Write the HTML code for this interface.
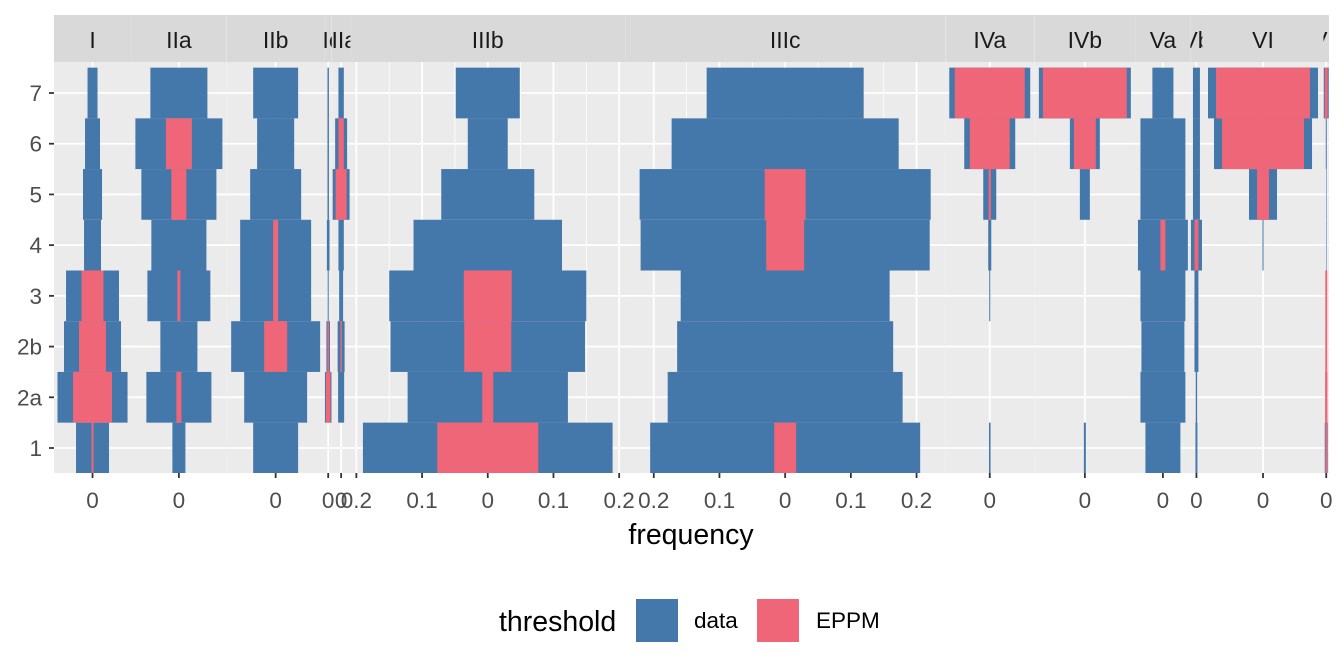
<!DOCTYPE html>
<html><head><meta charset="utf-8">
<style>
html,body{margin:0;padding:0;background:#fff;}
svg{display:block;font-family:"Liberation Sans",sans-serif;}
</style></head>
<body>
<svg id="chart" width="1344" height="672" viewBox="0 0 1344 672" xmlns="http://www.w3.org/2000/svg"></svg>
<script>
// rows (y categories), bottom to top
const rows = ["1","2a","2b","3","4","5","6","7"];
const panels = ["I","IIa","IIb","IIc","IIIa","IIIb","IIIc","IVa","IVb","Va","Vb","VI","VII"];
// half-width frequency per row (1..7) for "data"
const dataI    = [.0251,.0533,.0434,.0403,.0129,.0145,.0114,.0076];
const dataIIa  = [.0099,.0495,.0282,.0479,.0419,.0571,.0662,.0434];
const dataIIb  = [.0342,.0479,.0677,.054,.054,.0388,.0282,.0342];
const dataIIc  = [0,.005,.0027,.0008,.002,.0011,.0011,.0011];
const dataIIIa = [0,.0046,.0053,.003,.0041,.0129,.0091,.0041];
const dataIIIb = [.190,.122,.148,.150,.113,.0708,.0304,.0487];
const dataIIIc = [.2055,.1788,.1644,.159,.22,.2215,.1728,.1195];
const dataIVa  = [.0012,0,0,.0008,.0023,.0099,.0388,.0616];
const dataIVb  = [.0015,0,0,0,0,.0076,.0228,.07];
const dataVa   = [.0266,.0342,.0327,.0342,.038,.0342,.0342,.016];
const dataVb   = [.0015,.0011,.003,.003,.0084,.0053,.0053,.0053];
const dataVI   = [0,0,0,0,.0008,.0213,.0746,.0837];
const dataVII  = [.0023,0,0,0,.0005,.0005,.0008,.0038];
// half-width frequency per row for "EPPM"
const eppmI    = [.0015,.0297,.0205,.0167,0,0,0,0];
const eppmIIa  = [0,.0038,0,.0023,0,.0114,.0198,0];
const eppmIIb  = [0,0,.0175,.0038,.0038,0,0,0];
const eppmIIc  = [0,.0035,.0012,0,0,0,0,0];
const eppmIIIa = [0,0,.0011,0,0,.0084,.0041,0];
const eppmIIIb = [.0769,.0084,.0358,.0365,0,0,0,0];
const eppmIIIc = [.0167,0,0,0,.0289,.0312,0,0];
const eppmIVa  = [0,0,0,0,0,.0018,.0304,.0533];
const eppmIVb  = [0,0,0,0,0,0,.0167,.0639];
const eppmVa   = [0,0,0,0,.0038,0,0,0];
const eppmVb   = [0,0,0,0,.003,0,0,0];
const eppmVI   = [0,0,0,0,0,.0091,.0624,.0715];
const eppmVII  = [.0015,.0018,.0015,.0015,0,0,0,.0023];
const dataSeries = [dataI,dataIIa,dataIIb,dataIIc,dataIIIa,dataIIIb,dataIIIc,dataIVa,dataIVb,dataVa,dataVb,dataVI,dataVII];
const eppmSeries = [eppmI,eppmIIa,eppmIIb,eppmIIc,eppmIIIa,eppmIIIb,eppmIIIc,eppmIVa,eppmIVb,eppmVa,eppmVb,eppmVI,eppmVII];
const bigTicks = [-0.2,-0.1,0,0.1,0.2];
const bigMinor = [-0.15,-0.05,0.05,0.15];

const NS="http://www.w3.org/2000/svg";
const svg=document.getElementById('chart');
function mk(tag,attrs,parent){const e=document.createElementNS(NS,tag);for(const k in attrs)e.setAttribute(k,attrs[k]);(parent||svg).appendChild(e);return e;}

const K=657; // px per frequency unit
const PLEFT=54, PTOP=62, PBOT=473, STOP=15;
const yStep=(448-93)/7;
function yPos(i){return 448 - i*yStep;}
const BLUE="#4477AA", RED="#EE6677";

let x0=PLEFT;
panels.forEach((name,p)=>{
  const d=dataSeries[p], e=eppmSeries[p];
  const mx=Math.max(...d,...e);
  const w=mx*2.2*K;
  const cx=x0+w/2;
  const xs=v=>cx+v*K;
  const g=mk('g',{});
  
  
  const bg=mk('rect',{x:x0,y:PTOP,width:w,height:PBOT-PTOP,fill:'#EBEBEB'},g);
  
  
  const clipId='c'+p;
  const cp=mk('clipPath',{id:clipId},g);
  mk('rect',{x:x0,y:STOP,width:w,height:PBOT-STOP},cp);
  const gg=mk('g',{'clip-path':'url(#'+clipId+')'},g);
  const big = mx>0.1;
  if(big){
    bigMinor.forEach(t=>mk('line',{x1:xs(t),x2:xs(t),y1:PTOP,y2:PBOT,stroke:'#fff','stroke-width':0.8},gg));
  }
  rows.forEach((r,i)=>mk('line',{x1:x0,x2:x0+w,y1:yPos(i),y2:yPos(i),stroke:'#fff','stroke-width':1.8},gg));
  const ticks = big ? bigTicks.filter(t=>Math.abs(t)<=mx*1.1) : [0];
  ticks.forEach(t=>mk('line',{x1:xs(t),x2:xs(t),y1:PTOP,y2:PBOT,stroke:'#fff','stroke-width':1.8},gg));
  rows.forEach((r,i)=>{
    if(d[i]>0){
      const b=mk('rect',{x:xs(-d[i]),y:yPos(i)-yStep/2,width:2*d[i]*K,height:yStep,fill:BLUE},gg);
      
      
    }
  });
  rows.forEach((r,i)=>{
    if(e[i]>0){
      const b=mk('rect',{x:xs(-e[i]),y:yPos(i)-yStep/2,width:2*e[i]*K,height:yStep,fill:RED},gg);
      
      
    }
  });
  const st=mk('rect',{x:x0,y:STOP,width:w,height:PTOP-STOP,fill:'#D9D9D9'},gg);
  
  
  const stx=mk('text',{x:cx,y:48,'text-anchor':'middle','font-size':23,fill:'#1A1A1A'},gg);
  stx.textContent=name;
  
  
  ticks.forEach(t=>{
    mk('line',{x1:xs(t),x2:xs(t),y1:PBOT,y2:PBOT+5,stroke:'#333','stroke-width':1.8},g);
    const tl=mk('text',{x:xs(t),y:508,'text-anchor':'middle','font-size':22.5,fill:'#4D4D4D'},g);
    tl.textContent=String(Math.abs(t));
    
    
  });
  x0+=w;
});

rows.forEach((r,i)=>{
  mk('line',{x1:49,x2:54,y1:yPos(i),y2:yPos(i),stroke:'#333','stroke-width':1.8});
  const t=mk('text',{x:42,y:yPos(i)+8,'text-anchor':'end','font-size':22.5,fill:'#4D4D4D'});
  t.textContent=r;
  
  
});

const xt=mk('text',{x:691,y:544,'text-anchor':'middle','font-size':28.5,fill:'#000'});
xt.textContent='frequency';



const lg=mk('g',{});


const lt=mk('text',{x:499,y:631,'font-size':28.5,fill:'#000'},lg);
lt.textContent='threshold';


const k1=mk('rect',{x:636,y:599,width:42,height:43,fill:BLUE},lg);


const t1=mk('text',{x:694,y:628,'font-size':22.5,fill:'#000'},lg);
t1.textContent='data';


const k2=mk('rect',{x:757,y:599,width:42,height:43,fill:RED},lg);


const t2=mk('text',{x:816,y:628,'font-size':22.5,fill:'#000'},lg);
t2.textContent='EPPM';


</script>
</body></html>
